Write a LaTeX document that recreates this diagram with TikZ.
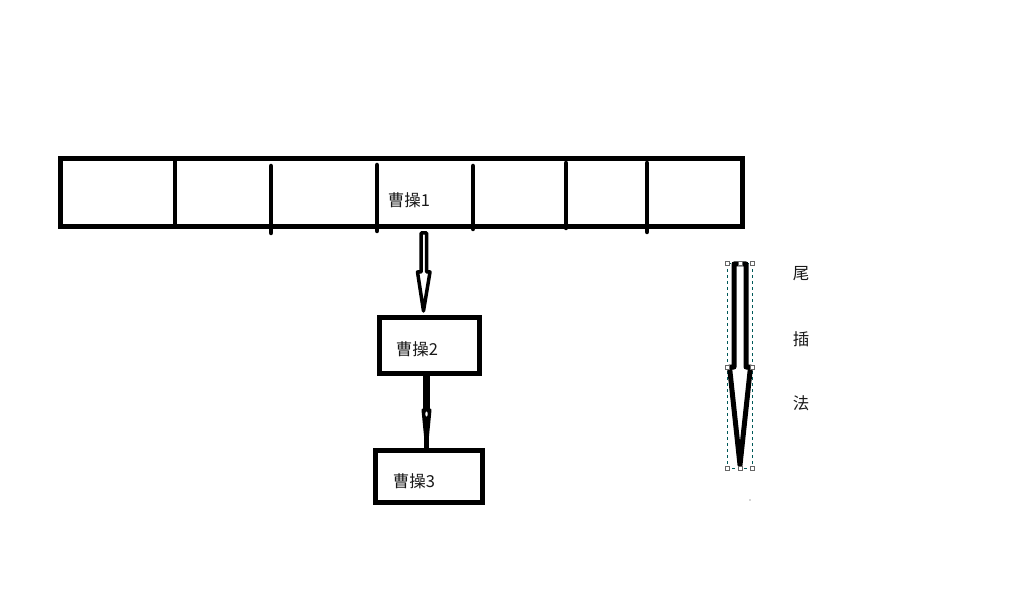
\documentclass[tikz,border=0pt]{standalone}
\usepackage{fontspec}
\newfontfamily\cjk{Noto Sans CJK SC}
\begin{document}
\begin{tikzpicture}[x=1pt,y=-1pt,
  thickbox/.style={draw=black,line width=5pt,inner sep=0pt,fill=white},
  divline/.style={line width=4.5pt,line cap=round},
  lbl/.style={font=\cjk\fontsize{16.5}{18}\selectfont,text=black!90,inner sep=0pt},
  hollow/.style={line width=3.5pt,line join=round,fill=white},
  handle/.style={draw=black!60,fill=white,line width=0.6pt,minimum size=4pt,inner sep=0pt,rectangle}]
\useasboundingbox (0,0) rectangle (1035,601);
% array
\node[thickbox,minimum width=682pt,minimum height=67.5pt,anchor=north west] (arr) at (57.5,156.5) {};
\draw[line width=4.5pt] (175,159) -- (175,226);
\draw[divline] (271,166) -- (271,233);
\draw[divline] (377,165) -- (377,231);
\draw[divline] (473,166) -- (473,229);
\draw[divline] (566,163) -- (566,228);
\draw[divline] (647,163) -- (647,232);
\node[lbl] (t1) at (409,200) {曹操1};
% box 2 and 3
\node[thickbox,minimum width=100pt,minimum height=55.5pt] (b2) at (429.5,345.3) {};
\node[lbl] (t2) at (417,349) {曹操2};
\node[thickbox,minimum width=107pt,minimum height=51.5pt] (b3) at (429,476.3) {};
\node[lbl] (t3) at (414,481) {曹操3};
% hollow arrow 1
\draw[hollow] (421,233) -- (421,272) -- (417.5,272) -- (423.5,311) -- (430,272) -- (426.5,272) -- (426.5,233) -- cycle;
% arrow 2
\draw[line width=7pt] (426.5,375) -- (426.5,411);
\draw[line width=3pt,line join=round,fill=black] (423,410) -- (430,410) -- (426.5,446) -- cycle;
\draw[line width=5pt] (426,425) -- (426,448);
\fill[white] (426.5,414) ellipse (1.2pt and 2.5pt);
% right arrow with selection frame
\draw[teal!70!black,dashed,line width=0.6pt] (727,263) rectangle (752,468);
\draw[line width=5pt,line join=round,fill=white] (734,264) -- (734,367) -- (729.5,367) -- (740,465) -- (750.5,367) -- (746,367) -- (746,264) -- cycle;
\foreach \px/\py [count=\i] in {727/263,740/263,752/263,727/367,752/367,727/468,740/468,752/468}
  \node[handle] (h\i) at (\px,\py) {};
\fill[black!70] (750,500) circle (0.6pt);
\node[lbl] (w1) at (801,274) {尾};
\node[lbl] (w2) at (801,339) {插};
\node[lbl] (w3) at (801,403) {法};
\end{tikzpicture}
\end{document}
